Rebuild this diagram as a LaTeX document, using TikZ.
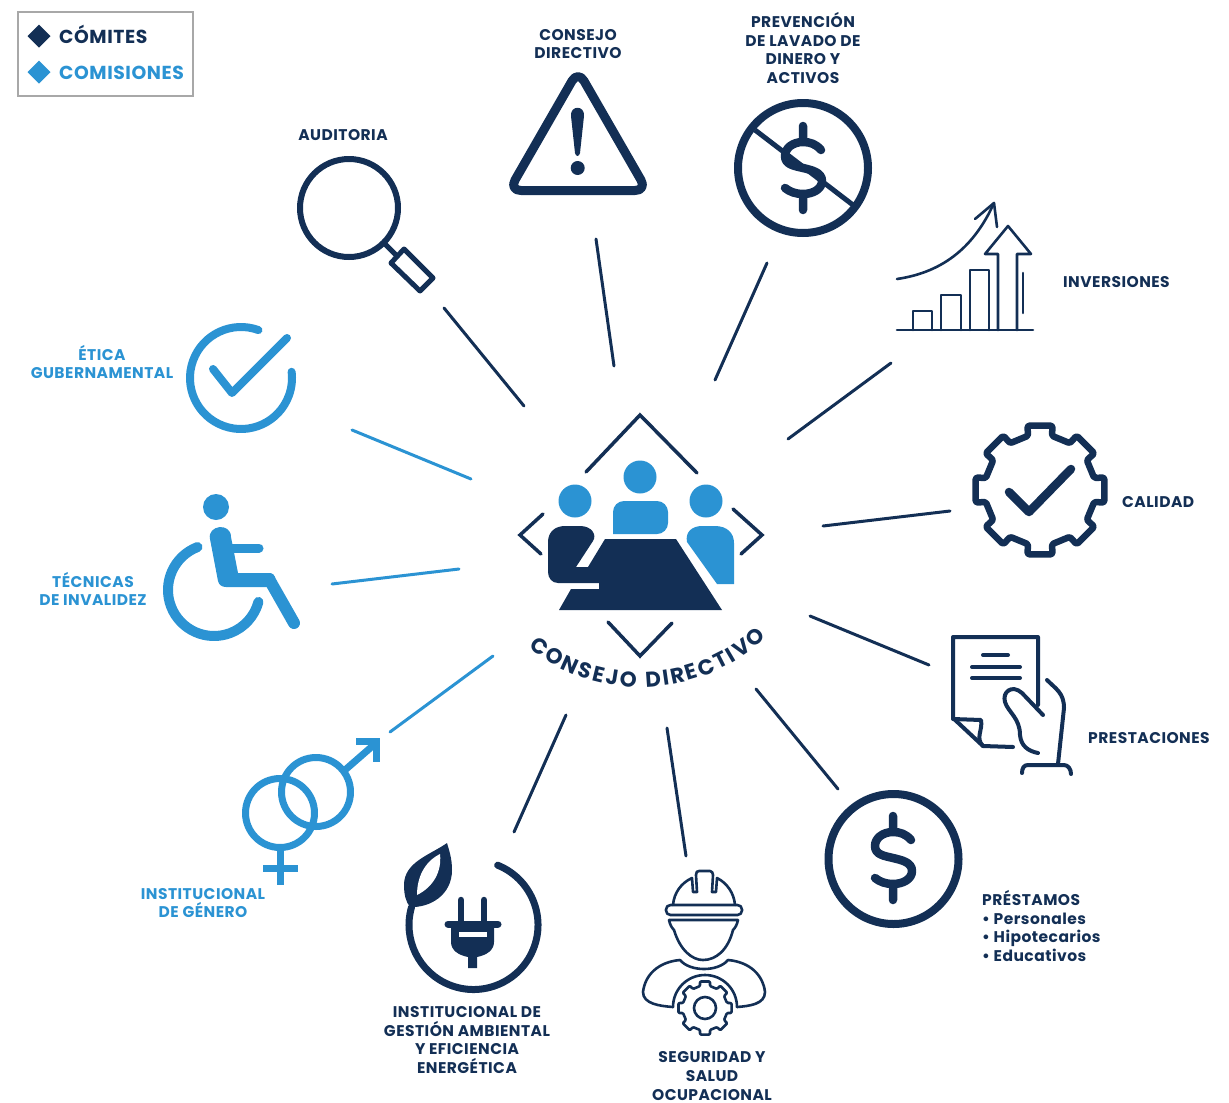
\documentclass[tikz,border=0pt]{standalone}
\usepackage{fontspec}
\setmainfont{Poppins}[LetterSpace=3]
\usetikzlibrary{decorations.text}
\definecolor{navy}{HTML}{132F55}
\definecolor{sky}{HTML}{2B93D3}
\definecolor{framegray}{HTML}{A8A8A8}
\tikzset{
  x=1pt,y=-1pt,
  spoke/.style={line width=3pt,line cap=round},
  navyspoke/.style={spoke,navy},
  skyspoke/.style={spoke,sky},
  lab/.style={font=\fontsize{15.5}{18.7}\selectfont\bfseries,align=center,inner sep=0pt},
  navylab/.style={lab,text=navy},
  skylab/.style={lab,text=sky},
  fine/.style={navy,line width=2.6pt,line cap=round,line join=round},
  mid/.style={navy,line width=4pt,line cap=round,line join=round},
  heavy/.style={navy,line width=7pt,line cap=round,line join=round},
  sheavy/.style={sky,line width=7pt,line cap=round,line join=round},
}
\newcommand{\moneysign}[3]{%
  \draw[navy,line width=#3,line cap=round,line join=round,shift={(#1,#2)}]
    (18,-18) .. controls (13,-24) and (7,-26) .. (0,-26)
    .. controls (-10,-26) and (-18,-20) .. (-18,-12)
    .. controls (-18,-3) and (-8,-2) .. (0,0)
    .. controls (8,2) and (19,4) .. (19,13)
    .. controls (19,21) and (10,26) .. (0,26)
    .. controls (-7,26) and (-13,24) .. (-18,20)
    (0,-42) -- (0,-26) (0,26) -- (0,42);}
\newcommand{\cogwheel}[8]{% cx cy Rout aout Rbase abase width corners
  \draw[navy,line width=#7,line join=round,rounded corners=#8,shift={(#1,#2)}]
    (-#6:#5) foreach \a in {0,45,...,315} { -- (\a-#6:#5) -- (\a-#4:#3) -- (\a+#4:#3) -- (\a+#6:#5) } -- cycle;}
\begin{document}
\begin{tikzpicture}
\useasboundingbox (0,0) rectangle (1229,1103);
% legend
\draw[framegray,line width=1.6pt] (18,12) rectangle (193,96);
\fill[navy] (39,24.5) -- (50.5,36) -- (39,47.5) -- (27.5,36) -- cycle;
\fill[sky] (39,60.5) -- (50.5,72) -- (39,83.5) -- (27.5,72) -- cycle;
\node[anchor=west,inner sep=0pt,text=navy,font=\fontsize{18.8}{20}\selectfont\bfseries] (legA) at (59,34) {CÓMITES};
\node[anchor=west,inner sep=0pt,text=sky,font=\fontsize{18.8}{20}\selectfont\bfseries] (legB) at (59,73) {COMISIONES};
% spokes
\coordinate (s1a) at (444,308); \coordinate (s1b) at (524,406);
\coordinate (s2a) at (596,239); \coordinate (s2b) at (614,366);
\coordinate (s3a) at (767,263); \coordinate (s3b) at (715,380);
\coordinate (s4a) at (891,363); \coordinate (s4b) at (788,439);
\coordinate (s5a) at (950,511); \coordinate (s5b) at (823,526);
\coordinate (s6a) at (929,665); \coordinate (s6b) at (810,616);
\coordinate (s7a) at (838,789); \coordinate (s7b) at (756,689);
\coordinate (s8a) at (686,856); \coordinate (s8b) at (667,728);
\coordinate (s9a) at (514,832); \coordinate (s9b) at (566,715);
\coordinate (s10a) at (390,732); \coordinate (s10b) at (493,656);
\coordinate (s11a) at (332,584); \coordinate (s11b) at (459,569);
\coordinate (s12a) at (352,430); \coordinate (s12b) at (471,479);
\foreach \i in {1,...,9} \draw[navyspoke] (s\i a) -- (s\i b);
\foreach \i in {10,11,12} \draw[skyspoke] (s\i a) -- (s\i b);
% centre emblem
\draw[navy,line width=3.5pt,line cap=round,line join=miter]
  (586,472) -- (640,415) -- (697,473)
  (543,514) -- (520,535) -- (541,554)
  (733,509) -- (762,535) -- (741,554)
  (608,622) -- (640,656) -- (672,623);
\fill[sky] (575,501) circle[radius=16.5] (640,477) circle[radius=16.5] (706,501) circle[radius=16.5];
\fill[sky,rounded corners=11pt] (613,534) -- (613,501) -- (668,501) -- (668,534) [sharp corners] -- cycle;
\fill[sky] (687,542) .. controls (685,532) and (692,526) .. (702,526) -- (715,526)
  .. controls (727,526) and (734,533) .. (734,543) -- (734,584) -- (717,584) -- cycle;
\fill[navy] (605,539) -- (676,539) -- (722,610) -- (559,610) -- (571,589) -- (599,589) -- (599,583)
  -- (558,583) .. controls (552,583) and (548,578) .. (548,572) -- (548,542)
  .. controls (548,532) and (555,526) .. (565,526) -- (580,526)
  .. controls (592,526) and (597,535) .. (593,541) -- (576,567) -- (588,567) -- cycle;
\path[decorate,decoration={text effects along path,text={CONSEJO  DIRECTIVO},text align=center,
  text effects/.cd,text along path,
  every character/.style={text=navy,font=\fontsize{21.5}{22}\selectfont\bfseries,inner xsep=1.1pt}}]
  (525,644) .. controls (590,703) and (700,703) .. (770,634);
% auditoria
\draw[heavy,line width=6pt] (349,208) circle[radius=49];
\draw[navy,line width=5pt] (384,243) -- (396,255);
\draw[navy,line width=5pt,line join=round] (391,263) -- (404,249) -- (433,278) -- (420,291) -- cycle;
% consejo triangle
\draw[navy,line width=9pt,line join=round,rounded corners=12pt] (578,70.5) -- (647,190.5) -- (509,190.5) -- cycle;
\fill[navy] (571,116) .. controls (570,105) and (585,105) .. (584,116) -- (580,153) .. controls (579,157) and (576,157) .. (575,153) -- cycle;
\fill[navy] (577.7,168) circle[radius=7];
% prevencion
\draw[heavy,line width=8pt] (803,168) circle[radius=65];
\draw[navy,line width=5pt] (755,130) -- (853,205);
\moneysign{803}{168}{8.5pt}
% inversiones
\draw[fine] (897,330) -- (1033,330);
\draw[fine] (913,330) -- (913,311) -- (932,311) -- (932,330);
\draw[fine] (941,330) -- (941,295) -- (961,295) -- (961,330);
\draw[fine] (970,330) -- (970,270) -- (989,270) -- (989,330);
\draw[fine] (998,330) -- (998,254) -- (985,254) -- (1008,226) -- (1031,254) -- (1017,254) -- (1017,330);
\draw[fine] (1023,273) -- (1023,313);
\draw[fine] (897,279) .. controls (945,272) and (975,245) .. (994,203);
\draw[fine] (975,219) -- (994,203) -- (997,227);
% calidad
\cogwheel{1040}{490}{65.5}{11}{55.5}{12.5}{6.5pt}{1.5pt}
\draw[navy,line width=8.5pt,line cap=round,line join=round] (1009,492) -- (1029,512) -- (1071,469);
% prestaciones
\draw[mid] (1038,705) -- (1038,637) -- (953,637) -- (953,718) -- (983,746) -- (1013,747);
\draw[mid] (953,719) -- (981,720) .. controls (983,730) and (975,738) .. (983,746);
\draw[mid] (983,655) -- (1008,655) (972,667) -- (1020,667) (972,678) -- (1020,678);
\draw[mid] (1043,715) -- (1022,693) .. controls (1012,684) and (1002,692) .. (1005,702)
  .. controls (1008,712) and (1020,718) .. (1020,735) .. controls (1021,746) and (1028,751) .. (1038,753);
\draw[mid] (1047,680) .. controls (1056,689) and (1064,693) .. (1064,708) -- (1058,764);
\draw[mid] (1022,773) .. controls (1022,768) and (1024,765) .. (1028,765) -- (1058,765) -- (1064,765) .. controls (1068,765) and (1071,769) .. (1071,774);
% prestamos
\draw[heavy,line width=8pt] (893.5,859) circle[radius=65];
\moneysign{893}{858}{8.5pt}
% seguridad
\draw[fine,rounded corners=4.5pt] (666,905) rectangle (742,915);
\draw[fine] (673,905) .. controls (674,893) and (681,883) .. (692,878) -- (693,892) -- (697,892) -- (696,875)
  .. controls (696,872) and (697,871) .. (699,871) -- (710,871) .. controls (712,871) and (713,873) .. (713,875)
  -- (712,892) -- (716,892) -- (717,878) .. controls (727,883) and (734,893) .. (735,905);
\draw[fine] (669,920) -- (738,920) (669,920) .. controls (670,925) and (672,928) .. (674,930)
  .. controls (680,950) and (692,960) .. (703,960) .. controls (716,960) and (728,950) .. (733,930)
  .. controls (735,928) and (737,925) .. (738,920);
\draw[fine] (673,1007) .. controls (660,1006) and (643,1004) .. (643,992)
  .. controls (645,975) and (658,962) .. (680,960) .. controls (690,972) and (718,972) .. (728,960)
  .. controls (750,962) and (763,975) .. (765,992) .. controls (765,1004) and (750,1006) .. (737,1007);
\draw[fine] (673,1007) arc[start angle=180,end angle=360,radius=32];
\cogwheel{705}{1008}{27}{10.5}{22.5}{13}{2.6pt}{1pt}
\draw[fine] (705,1008) circle[radius=11];
% ambiental
\draw[heavy,line width=7pt] (473.5,925) ++(-68:64.5) arc[start angle=-68,end angle=196,radius=64.5];
\fill[navy] (447,843) .. controls (430,855) and (404,862) .. (404,885) .. controls (404,895) and (406,902) .. (410,907)
  .. controls (430,908) and (452,895) .. (452,870) .. controls (452,858) and (449,850) .. (447,843) -- cycle;
\fill[white] (417,895) .. controls (417,878) and (424,862) .. (440,854) .. controls (442,872) and (433,887) .. (417,895) -- cycle;
\draw[navy,line width=6.5pt,line cap=round] (461,900) -- (461,922) (484,900) -- (484,922);
\draw[navy,line width=7pt,line cap=round] (448,924) -- (498,924);
\fill[navy] (451,925) -- (451,942) .. controls (451,950) and (458,955) .. (468,957) -- (468,968) -- (477,968) -- (477,957)
  .. controls (487,955) and (494,950) .. (494,942) -- (494,925) -- cycle;
\fill[white] (459,932) rectangle (487,937);
% genero
\draw[sheavy] (280,813) circle[radius=34.5];
\draw[sheavy] (316,792) circle[radius=34.5];
\draw[sheavy,line cap=butt] (345,770) -- (376,743);
\draw[sheavy,line cap=butt,line join=miter] (356,741.5) -- (376.5,741.5) -- (376.5,762);
\draw[sheavy,line cap=butt] (280,849) -- (280,885) (263,868) -- (298,868);
% tecnicas
\fill[sky] (216,507) circle[radius=13];
\fill[sky] (210,539) .. controls (207,525) and (231,522) .. (231,537) -- (238,573) -- (270,573)
  .. controls (273,573) and (274,575) .. (275,577) -- (275,587) -- (226,587) .. controls (222,587) and (219,585) .. (218,581) -- cycle;
\draw[sky,line width=12pt,line cap=round] (269,579) -- (294,623);
\draw[sky,line width=9pt,line cap=round] (232,548) -- (259,548);
\draw[sky,line width=10pt,line cap=round] (214,590) ++(249:46) arc[start angle=249,end angle=15,radius=46];
% etica
\draw[sheavy,line width=8pt] (241,378) ++(-70:51) arc[start angle=-70,end angle=-367,radius=51];
\draw[sheavy,line width=8pt] (213,369) -- (232,393) -- (287,338);
% labels
\node[navylab] (auditoria) at (343,135) {AUDITORIA};
\node[navylab] (consejo) at (578,44) {CONSEJO\\DIRECTIVO};
\node[navylab] (prevencion) at (803,48) {PREVENCIÓN\\DE LAVADO DE\\DINERO Y\\ACTIVOS};
\node[navylab,anchor=west] (inversiones) at (1063,282) {INVERSIONES};
\node[navylab,anchor=west] (calidad) at (1122,502) {CALIDAD};
\node[navylab,anchor=west] (prestaciones) at (1088,738) {PRESTACIONES};
\node[navylab,anchor=west,align=left] (prestamos) at (982,926) {PRÉSTAMOS\\• Personales\\• Hipotecarios\\• Educativos};
\node[navylab] (seguridad) at (712,1076) {SEGURIDAD Y\\SALUD\\OCUPACIONAL};
\node[navylab] (ambiental) at (467,1040) {INSTITUCIONAL DE\\GESTIÓN AMBIENTAL\\Y EFICIENCIA\\ENERGÉTICA};
\node[skylab] (genero) at (203,903) {INSTITUCIONAL\\DE GÉNERO};
\node[skylab] (tecnicas) at (93,589) {TÉCNICAS\\DE INVALIDEZ};
\node[skylab] (etica) at (102,362) {ÉTICA\\GUBERNAMENTAL};
\end{tikzpicture}
\end{document}
